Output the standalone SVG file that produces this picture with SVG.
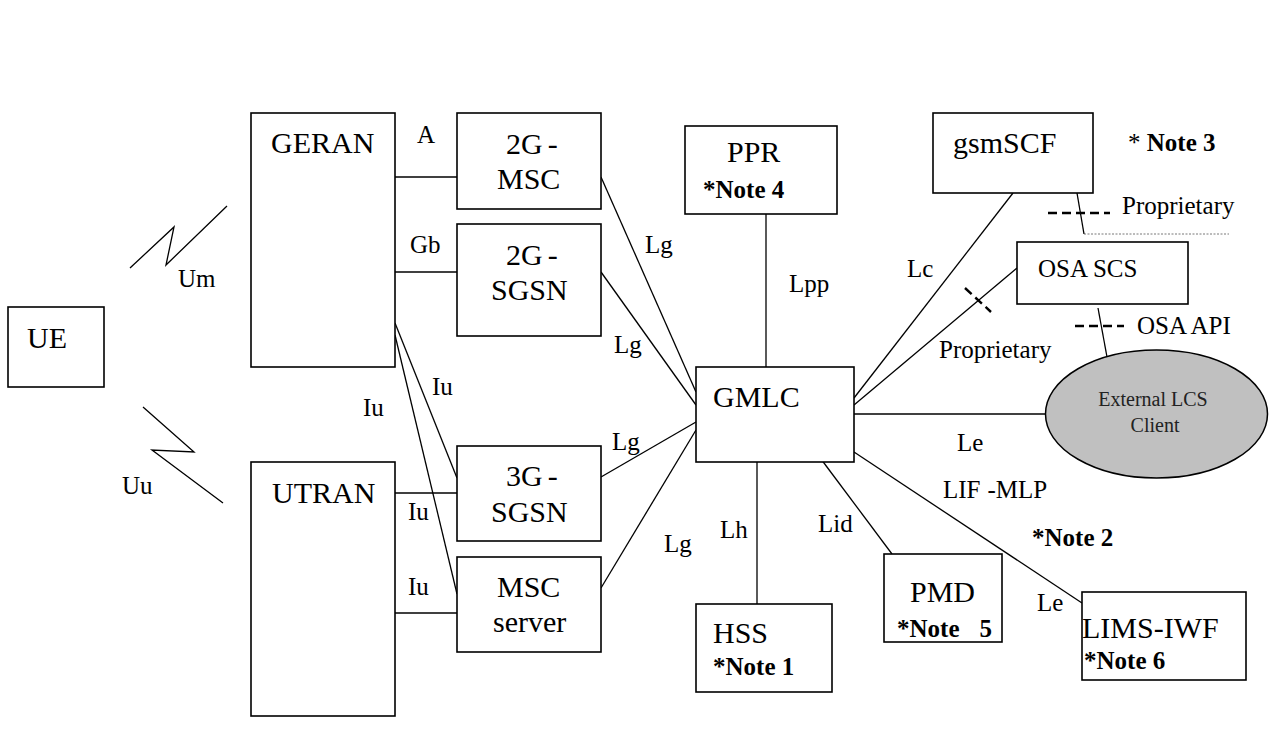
<svg xmlns="http://www.w3.org/2000/svg" width="1282" height="731" viewBox="0 0 1282 731">
<style>
.box{fill:#fff;stroke:#000;stroke-width:1.6}
.ln{fill:none;stroke:#000;stroke-width:1.3}
.dash{fill:none;stroke:#000;stroke-width:2.4;stroke-dasharray:9 5}
.dot{fill:none;stroke:#555;stroke-width:0.8;stroke-dasharray:2 1.5}
text{font-family:"Liberation Serif","Times New Roman",serif;fill:#000}
.big{font-size:30px}
.lab{font-size:25px}
.note{font-size:25px;font-weight:bold}
.cl{font-size:20px;fill:#222}
</style>
<rect width="1282" height="731" fill="#fff"/>
<g id="connectors">
<polyline class="ln" points="130,268 174,227 166,265 227,206"/>
<polyline class="ln" points="143,407 194,452 152,450 223,503"/>
<line class="ln" x1="395" y1="177" x2="457" y2="177"/>
<line class="ln" x1="395" y1="272" x2="457" y2="272"/>
<line class="ln" x1="395" y1="323" x2="457" y2="478"/>
<line class="ln" x1="395" y1="335" x2="457" y2="594"/>
<line class="ln" x1="395" y1="493" x2="457" y2="493"/>
<line class="ln" x1="392" y1="613" x2="457" y2="613"/>
<line class="ln" x1="601" y1="177" x2="696" y2="392"/>
<line class="ln" x1="601" y1="272" x2="696" y2="405"/>
<line class="ln" x1="601" y1="477" x2="696" y2="422"/>
<line class="ln" x1="601" y1="588" x2="696" y2="430"/>
<line class="ln" x1="766" y1="212" x2="766" y2="367"/>
<line class="ln" x1="757" y1="462" x2="757" y2="604"/>
<line class="ln" x1="821" y1="459" x2="892" y2="554"/>
<line class="ln" x1="854" y1="452" x2="1082" y2="603"/>
<line class="ln" x1="854" y1="414" x2="1045" y2="414"/>
<line class="ln" x1="854" y1="398" x2="1013" y2="193"/>
<line class="ln" x1="854" y1="405" x2="1017" y2="268"/>
<line class="dash" x1="965" y1="288" x2="991" y2="312"/>
<line class="ln" x1="1077" y1="193" x2="1084" y2="234"/>
<line class="dot" x1="1084" y1="234" x2="1229" y2="234"/>
<line class="dash" x1="1048" y1="213" x2="1110" y2="213"/>
<line class="ln" x1="1098" y1="308" x2="1107" y2="357"/>
<line class="dash" x1="1075" y1="326" x2="1124" y2="326"/>
</g>
<g id="labels">
<text class="lab" x="178" y="287">Um</text>
<text class="lab" x="122" y="494">Uu</text>
<text class="lab" x="417" y="143">A</text>
<text class="lab" x="410" y="253">Gb</text>
<text class="lab" x="432" y="395">Iu</text>
<text class="lab" x="363" y="416">Iu</text>
<text class="lab" x="408" y="520">Iu</text>
<text class="lab" x="408" y="595">Iu</text>
<text class="lab" x="645" y="253">Lg</text>
<text class="lab" x="614" y="353">Lg</text>
<text class="lab" x="612" y="450">Lg</text>
<text class="lab" x="664" y="552">Lg</text>
<text class="lab" x="789" y="292">Lpp</text>
<text class="lab" x="720" y="538">Lh</text>
<text class="lab" x="818" y="532">Lid</text>
<text class="lab" x="907" y="277">Lc</text>
<text class="lab" x="939" y="358">Proprietary</text>
<text class="lab" x="1122" y="214">Proprietary</text>
<text class="lab" x="1137" y="334">OSA API</text>
<text class="lab" x="957" y="451">Le</text>
<text class="lab" x="943" y="498">LIF<tspan dx="7">-MLP</tspan></text>
<text class="note" x="1032" y="546">*Note 2</text>
<text class="lab" x="1037" y="611">Le</text>
<text class="lab" x="1128" y="151">* <tspan class="note">Note 3</tspan></text>
</g>
<g id="UE"><rect class="box" x="8" y="307" width="96" height="80"/><text class="big" x="27" y="348">UE</text></g>
<g id="GERAN"><rect class="box" x="251" y="113" width="144" height="254"/><text class="big" x="271" y="153">GERAN</text></g>
<g id="UTRAN"><rect class="box" x="251" y="462" width="144" height="254"/><text class="big" x="272" y="503">UTRAN</text></g>
<g id="MSC2G"><rect class="box" x="457" y="113" width="144" height="96"/><text class="big" x="506" y="154">2G<tspan dx="5">-</tspan></text><text class="big" x="497" y="189">MSC</text></g>
<g id="SGSN2G"><rect class="box" x="457" y="224" width="144" height="112"/><text class="big" x="506" y="265">2G<tspan dx="5">-</tspan></text><text class="big" x="491" y="300">SGSN</text></g>
<g id="SGSN3G"><rect class="box" x="457" y="446" width="144" height="95"/><text class="big" x="506" y="486">3G<tspan dx="5">-</tspan></text><text class="big" x="491" y="522">SGSN</text></g>
<g id="MSCserver"><rect class="box" x="457" y="557" width="144" height="95"/><text class="big" x="497" y="597">MSC</text><text class="big" x="493" y="632">server</text></g>
<g id="PPR"><rect class="box" x="685" y="126" width="152" height="88"/><text class="big" x="727" y="162">PPR</text><text class="note" x="703" y="198">*Note 4</text></g>
<g id="GMLC"><rect class="box" x="696" y="367" width="158" height="95"/><text class="big" x="713" y="407">GMLC</text></g>
<g id="HSS"><rect class="box" x="696" y="604" width="136" height="88"/><text class="big" x="713" y="643">HSS</text><text class="note" x="713" y="675">*Note 1</text></g>
<g id="PMD"><rect class="box" x="884" y="554" width="118" height="88"/><text class="big" x="910" y="602">PMD</text><text class="note" x="897" y="637">*Note<tspan dx="20">5</tspan></text></g>
<g id="LIMSIWF"><rect class="box" x="1082" y="592" width="164" height="88"/><text class="big" x="1082" y="638">LIMS-IWF</text><text class="note" x="1084" y="669">*Note 6</text></g>
<g id="gsmSCF"><rect class="box" x="933" y="113" width="160" height="80"/><text class="big" x="953" y="153">gsmSCF</text></g>
<g id="OSASCS"><rect class="box" x="1017" y="242" width="171" height="62"/><text class="lab" x="1038" y="277">OSA SCS</text></g>
<g id="ExternalLCSClient"><ellipse cx="1156.5" cy="414" rx="111" ry="64" fill="#c0c0c0" stroke="#000" stroke-width="1.5"/><text class="cl" x="1153" y="406" text-anchor="middle">External LCS</text><text class="cl" x="1155" y="432" text-anchor="middle">Client</text></g>
</svg>
